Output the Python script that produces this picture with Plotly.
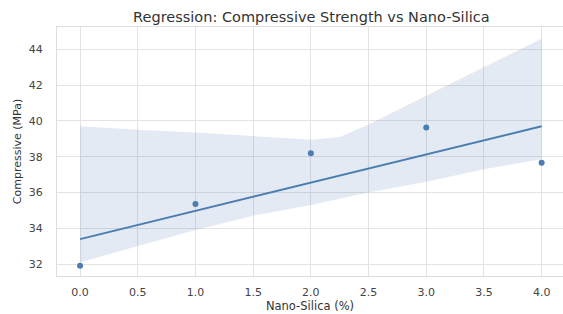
import numpy as np
import plotly.graph_objects as go

# data points
nano_silica = [0.0, 1.0, 2.0, 3.0, 4.0]
compressive = [31.9, 35.36, 38.19, 39.63, 37.66]

# confidence band
band_x = [0.0, 0.5, 1.0, 1.5, 2.0, 2.25, 2.5, 3.0, 3.5, 4.0]
band_upper = [39.7, 39.5, 39.35, 39.15, 38.95, 39.1, 39.8, 41.4, 43.0, 44.6]
band_lower = [32.1, 33.0, 33.9, 34.7, 35.3, 35.65, 36.0, 36.6, 37.3, 37.85]

x_ticks = [0.0, 0.5, 1.0, 1.5, 2.0, 2.5, 3.0, 3.5, 4.0]
y_ticks = [32, 34, 36, 38, 40, 42, 44]

slope, intercept = np.polyfit(nano_silica, compressive, 1)
line_x = np.linspace(min(nano_silica), max(nano_silica), 100)
line_y = slope * line_x + intercept

blue = "#4a7db0"
font = "DejaVu Sans"

fig = go.Figure()
fig.add_trace(go.Scatter(x=band_x, y=band_upper, mode="lines",
                         line=dict(width=0), hoverinfo="skip", showlegend=False))
fig.add_trace(go.Scatter(x=band_x, y=band_lower, mode="lines",
                         line=dict(width=0), fill="tonexty",
                         fillcolor="rgba(76,114,176,0.15)",
                         hoverinfo="skip", showlegend=False))
fig.add_trace(go.Scatter(x=line_x, y=line_y, mode="lines",
                         line=dict(color=blue, width=2), showlegend=False))
fig.add_trace(go.Scatter(x=nano_silica, y=compressive, mode="markers",
                         marker=dict(color=blue, size=6), showlegend=False))

fig.update_layout(
    width=563, height=314,
    margin=dict(l=57, r=0, t=27, b=38),
    paper_bgcolor="white", plot_bgcolor="white",
    font=dict(family=font, color="#444", size=11),
    title=dict(text="Regression: Compressive Strength vs Nano-Silica",
               x=0.553, xanchor="center", y=0.945, yanchor="middle",
               font=dict(family=font, size=14.5, color="#333")),
)
fig.update_xaxes(range=[-0.2, 4.185], tickvals=x_ticks, tickformat=".1f",
                 automargin=False,
                 showgrid=True, gridcolor="#e3e3e3", gridwidth=1,
                 showline=True, linecolor="#dddddd", mirror=True,
                 zeroline=False, ticks="", ticklabelstandoff=6,
                 tickfont=dict(size=11, color="#444"),
                 title=dict(text="Nano-Silica (%)", standoff=1,
                            font=dict(size=11.5, color="#333")))
fig.update_yaxes(range=[31.33, 45.25], tickvals=y_ticks,
                 automargin=False,
                 showgrid=True, gridcolor="#e3e3e3", gridwidth=1,
                 showline=True, linecolor="#dddddd", mirror=True,
                 zeroline=False, ticks="", ticklabelstandoff=11,
                 tickfont=dict(size=11, color="#444"),
                 title=dict(text="Compressive (MPa)", standoff=4,
                            font=dict(size=11, color="#333")))

fig.write_html("out.html",
               config={"displayModeBar": False},
               post_script="document.body.style.margin='0';")
